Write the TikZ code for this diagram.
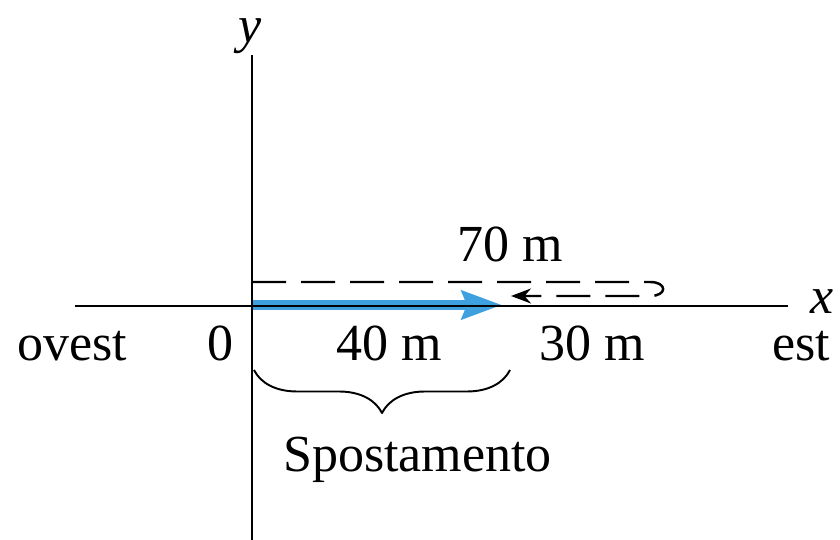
\documentclass[tikz,border=0pt]{standalone}
\usepackage{fontspec}
\setmainfont{Liberation Serif}
\usetikzlibrary{arrows.meta,decorations.pathreplacing}
\definecolor{spostblu}{RGB}{62,160,222}
\tikzset{
  lbl/.style={inner sep=0pt,font=\fontsize{29.6}{34}\selectfont},
  asse/.style={line width=1.6pt},
  percorso/.style={line width=1.4pt,dash pattern=on 0.68cm off 0.3cm},
}

\begin{document}
\begin{tikzpicture}[line join=round]
  \useasboundingbox (0,0) rectangle (16.8,10.8);
  % punti
  \coordinate (xa) at (1.5,4.68);
  \coordinate (xb) at (15.76,4.68);
  \coordinate (ya) at (5.04,0);
  \coordinate (yb) at (5.04,9.70);
  \coordinate (s0) at (5.04,4.70);
  \coordinate (s1) at (10.04,4.70);
  \coordinate (d0) at (5.04,5.16);
  \coordinate (d1) at (13.0,5.16);
  \coordinate (d2) at (13.0,4.88);
  \coordinate (d3) at (10.22,4.88);
  \coordinate (b0) at (5.08,3.40);
  \coordinate (b1) at (10.20,3.40);
  % spostamento
  \draw[spostblu,line width=0.2cm,-{Stealth[length=0.8cm,width=0.56cm,inset=0.1cm]}] (s0) -- (s1);
  % assi
  \draw[asse] (xa) -- (xb);
  \draw[asse] (ya) -- (yb);
  % percorso 70 m, andata e ritorno
  \draw[percorso,-{Stealth[length=0.4cm,width=0.3cm]}] (d0) -- (d1)
    .. controls (13.35,5.16) and (13.35,4.88) .. (d2) -- (d3);
  % graffa
  \draw[line width=1.1pt,decorate,decoration={brace,mirror,amplitude=0.86cm}] (b0) -- (b1);
  % testi
  \node[lbl] (ylab) at (5.0,10.08) {\itshape y};
  \node[lbl] (xlab) at (16.44,4.76) {\itshape x};
  \node[lbl,anchor=base] (ovest) at (1.45,3.58) {ovest};
  \node[lbl,anchor=base] (zero) at (4.41,3.58) {0};
  \node[lbl,anchor=base] (qua) at (7.78,3.58) {40 m};
  \node[lbl,anchor=base] (tre) at (11.84,3.58) {30 m};
  \node[lbl,anchor=base] (est) at (16.02,3.58) {est};
  \node[lbl,anchor=base] (set) at (10.21,5.56) {70 m};
  \node[lbl,anchor=base] (spost) at (8.35,1.36) {Spostamento};
\end{tikzpicture}
\end{document}
